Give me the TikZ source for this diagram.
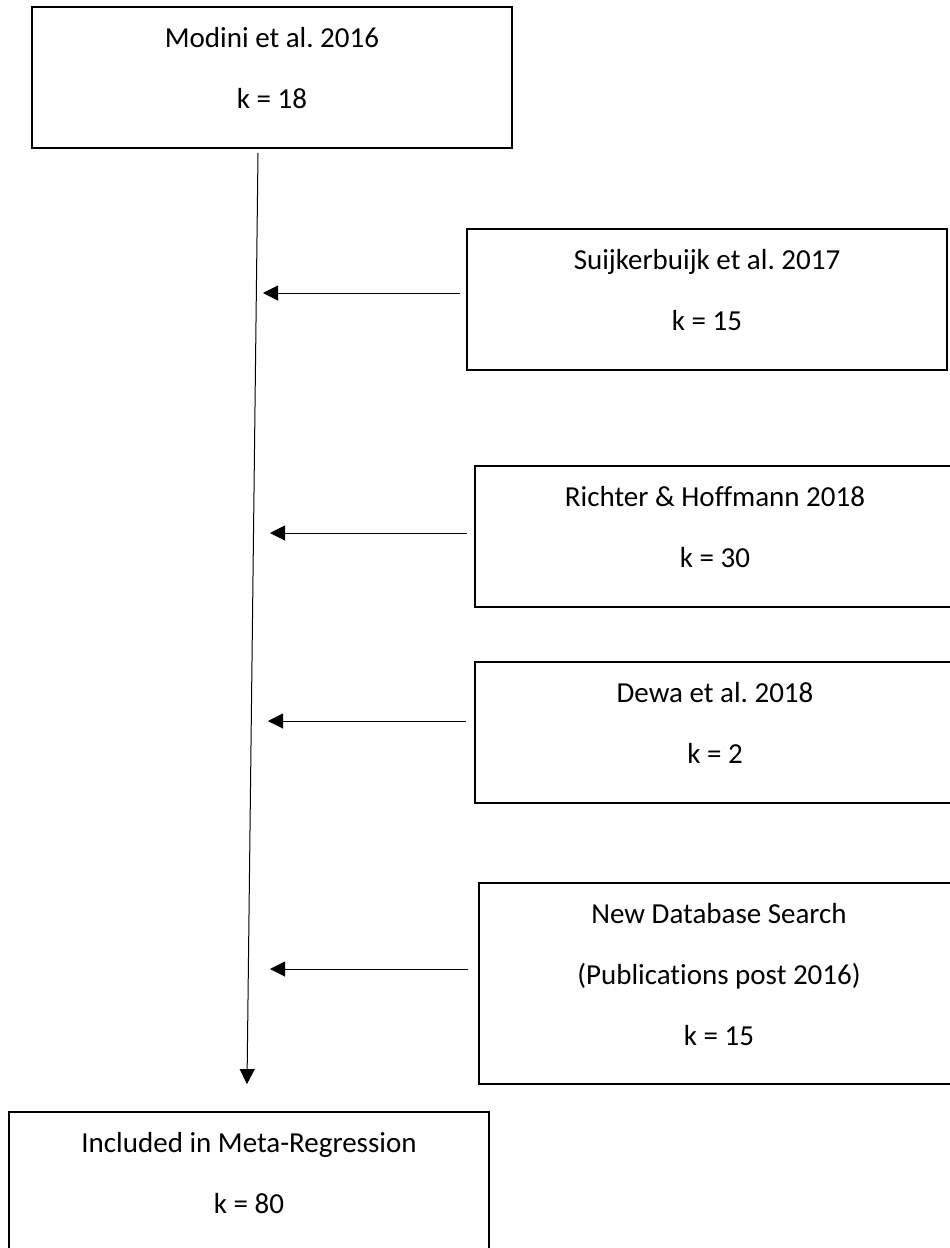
\documentclass[tikz,border=0pt]{standalone}
\usepackage{fontspec}
\setmainfont{Carlito}[Ligatures=NoCommon]
\usetikzlibrary{arrows.meta}
\frenchspacing
\newcommand{\study}[2]{\parbox[c][#1][t]{440pt}{\centering\rule{0pt}{40pt}#2}}

\begin{document}
\begin{tikzpicture}[x=1pt,y=1pt,
  every node/.style={font=\fontsize{29}{61}\selectfont},
  box/.style={draw=black,line width=1.8pt,inner sep=0pt,minimum width=480pt},
  feed/.style={-{Triangle[length=15pt,width=15pt]},draw=black,line width=1pt}]
 \clip (0,0) rectangle (950,-1248);

 \draw (272,-77.5) node[box] (modini)
              {\study{141pt}{Modini et al. 2016\\k = 18}};

 \draw (707,-299.5) node[box] (suijk)
              {\study{141pt}{Suijkerbuijk et al. 2017\\k = 15}};

 \draw (715,-536.5) node[box] (richter)
              {\study{141pt}{Richter \& Hoffmann 2018\\k = 30}};

 \draw (715,-732.5) node[box] (dewa)
              {\study{141pt}{Dewa et al. 2018\\k = 2}};

 \draw (719,-983.5) node[box] (newdb)
              {\study{201pt}{New Database Search\\(Publications post 2016)\\k = 15}};

 \draw (249,-1182.5) node[box] (metareg)
              {\study{141pt}{Included in Meta-Regression\\k = 80}};

 % main stream
 \coordinate (down) at ([xshift=-2pt,yshift=27pt]metareg.north);
 \draw[feed] ([xshift=-14pt,yshift=-4pt]modini.south) -- (down);

 % studies joining the stream
 \coordinate (in1) at (263,-293);
 \coordinate (in2) at (270,-533);
 \coordinate (in3) at (268,-721);
 \coordinate (in4) at (270,-969);

 \draw[feed,shorten <=6pt] (suijk.west |- in1) -- (in1);
 \draw[feed,shorten <=7pt] (richter.west |- in2) -- (in2);
 \draw[feed,shorten <=8pt] (dewa.west |- in3) -- (in3);
 \draw[feed,shorten <=10pt] (newdb.west |- in4) -- (in4);

\end{tikzpicture}
\end{document}
